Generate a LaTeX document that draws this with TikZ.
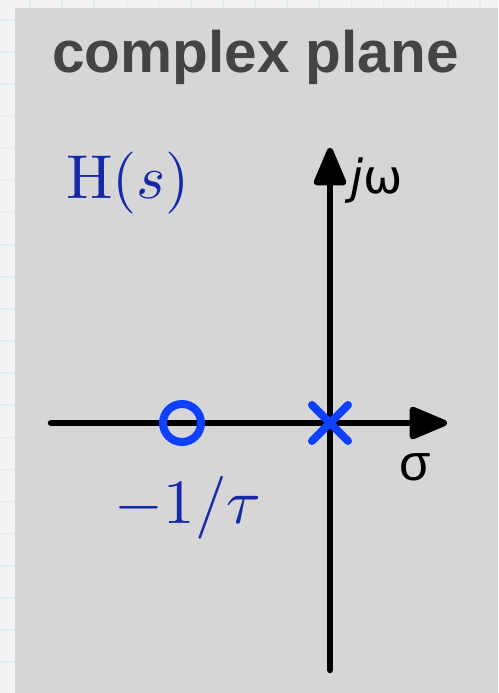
\documentclass[tikz,border=0pt]{standalone}
\usepackage{fontspec}
\usetikzlibrary{arrows.meta}
\newfontfamily\titlefont{Liberation Sans}
\newfontfamily\symfont{DejaVu Sans}
\definecolor{outerbg}{HTML}{F3F3F3}
\definecolor{gridc}{HTML}{DDEEF2}
\definecolor{panel}{HTML}{D6D6D6}
\definecolor{titlegray}{HTML}{444444}
\definecolor{markblue}{HTML}{0F40FF}
\definecolor{textblue}{HTML}{1629A8}
\tikzset{
  axis/.style={line width=6.5pt, black, line cap=round, -{Triangle[length=43pt,width=34pt,round=false]}},
  markline/.style={line width=8pt, markblue, line cap=round},
  bluetext/.style={textblue, inner sep=0pt, anchor=base},
  gridline/.style={gridc, line width=1.6pt}
}
\begin{document}
\begin{tikzpicture}[x=1pt,y=-1pt]
\useasboundingbox (0,0) rectangle (498,693);
\fill[outerbg] (0,0) rectangle (498,693);
\foreach \k in {0,...,14} {\draw[gridline] ({30+32.14*\k},0) -- ({30+32.14*\k},693);}
\foreach \k in {0,...,21} {\draw[gridline] (0,{20+32.1*\k}) -- (498,{20+32.1*\k});}
\fill[panel] (15,8) rectangle (498,693);
% title
\node[anchor=base, inner sep=0pt, titlegray] (title) at (255.5,72)
  {\titlefont\bfseries\fontsize{58.5}{60}\selectfont complex plane};
% axes
\coordinate (origin) at (330,423);
\coordinate (xleft) at (51,423);
\coordinate (xright) at (447,423);
\coordinate (ybot) at (330,670);
\coordinate (ytop) at (330,148);
\draw[axis] (xleft) -- (xright);
\draw[axis] (ybot) -- (ytop);
% axis labels
\node[anchor=base west, inner sep=0pt] (jw) at (350,193)
  {\symfont\fontsize{47}{49}\selectfont\textit{j}ω};
\node[anchor=base, inner sep=0pt] (sigma) at (415,480)
  {\titlefont\fontsize{51}{53}\selectfont σ};
% zero and pole
\node[circle, draw=markblue, line width=8pt, minimum size=38pt, inner sep=0pt] (zero) at (182,423) {};
\draw[markline] ([shift={(-18,-18)}]origin) -- ([shift={(18,18)}]origin);
\draw[markline] ([shift={(-18,18)}]origin) -- ([shift={(18,-18)}]origin);
\node[coordinate] (pole) at (origin) {};
% blue labels
\node[bluetext, scale=6.2] (H) at (128,198) {$\mathrm{H}(s)$};
\node[bluetext, scale=6.3] (tau) at (188,523) {$-1/\tau$};
\end{tikzpicture}
\end{document}
